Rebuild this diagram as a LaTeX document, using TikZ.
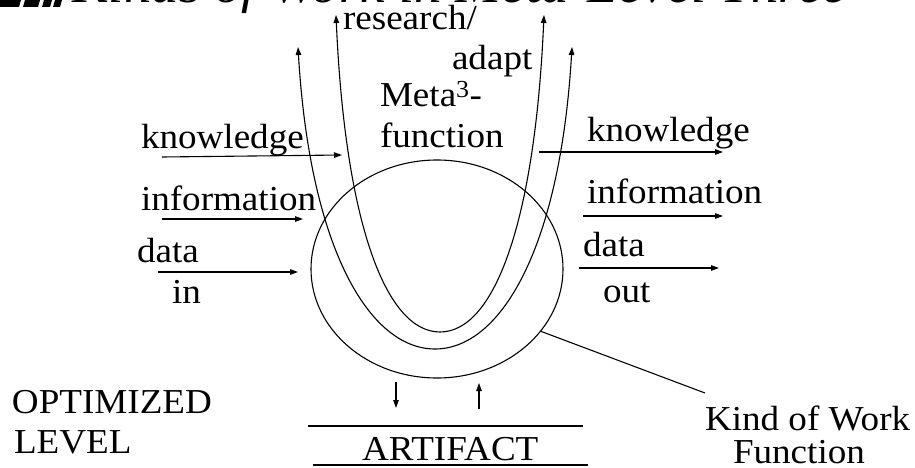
\documentclass[tikz,border=0pt]{standalone}
\usepackage{fontspec}
\setmainfont[FakeStretch=1.06]{Liberation Serif}
\usetikzlibrary{arrows.meta,shapes.geometric}

\begin{document}
\begin{tikzpicture}[x=1pt,y=-1pt,
  lbl/.style={inner sep=0pt, outer sep=0pt, anchor=base west, font=\fontsize{35}{40}\selectfont},
  stroke/.style={line width=1.1pt},
  flow/.style={stroke, -{Triangle[length=8pt,width=5.5pt]}},
  twoway/.style={stroke, {Triangle[length=8pt,width=5.5pt]}-{Triangle[length=8pt,width=5.5pt]}},
]
\useasboundingbox (0,0) rectangle (915,468);
\clip (0,0) rectangle (915,468);

% slide title and its bullet mark
\fill (0,0) -- (21,0) -- (19,7) -- (0,7) -- cycle;
\fill (25,0) -- (40,0) -- (38,7) -- (23,7) -- cycle;
\fill (44,0) -- (52,0) -- (50,7) -- (42,7) -- cycle;
\fill (55,0) -- (62,0) -- (60,7) -- (53,7) -- cycle;
\node[lbl, font=\fontsize{52}{60}\selectfont\itshape] (title) at (72,3) {Kinds of Work in Meta-Level Three};

% the work function
\node[draw, stroke, ellipse, inner sep=0pt, outer sep=0pt,
      minimum width=252pt, minimum height=218pt] (kwf) at (437,269) {};

% meta-function loops
\coordinate (innerL) at (336,15);
\coordinate (innerB) at (440,332);
\coordinate (innerR) at (544,15);
\draw[twoway] (innerL) .. controls (345,220) and (385,332) .. (innerB)
                       .. controls (495,332) and (535,220) .. (innerR);
\coordinate (outerL) at (298,47);
\coordinate (outerB) at (435,349);
\coordinate (outerR) at (572,47);
\draw[twoway] (outerL) .. controls (310,250) and (370,349) .. (outerB)
                       .. controls (500,349) and (560,250) .. (outerR);

\node[lbl] (research) at (343,30) {research/};
\node[lbl] (adapt) at (452,70) {adapt};
\node[lbl] (meta) at (380,107) {Meta\textsuperscript{3}-};
\node[lbl] (function) at (380,147) {function};

% inputs
\node[lbl] (kin) at (141,148) {knowledge};
\node[lbl] (iin) at (141,210) {information};
\node[lbl] (din) at (137,262) {data};
\node[lbl] (inw) at (172,303) {in};
\coordinate (kinA) at (162,157); \coordinate (kinB) at (342,155);
\coordinate (iinA) at (162,219); \coordinate (iinB) at (303,219);
\coordinate (dinA) at (158,272); \coordinate (dinB) at (298,272);
\draw[flow] (kinA) -- (kinB);
\draw[flow] (iinA) -- (iinB);
\draw[flow] (dinA) -- (dinB);

% outputs
\node[lbl] (kout) at (587,142) {knowledge};
\node[lbl] (iout) at (587,203) {information};
\node[lbl] (dout) at (583,256) {data};
\node[lbl] (outw) at (603,302) {out};
\coordinate (koutA) at (539,152); \coordinate (koutB) at (723,152);
\coordinate (ioutA) at (583,216); \coordinate (ioutB) at (723,216);
\coordinate (doutA) at (579,268); \coordinate (doutB) at (719,268);
\draw[flow] (koutA) -- (koutB);
\draw[flow] (ioutA) -- (ioutB);
\draw[flow] (doutA) -- (doutB);

% artifact
\coordinate (downA) at (396,382); \coordinate (downB) at (396,408);
\coordinate (upA) at (479,409);   \coordinate (upB) at (479,383);
\draw[flow] (downA) -- (downB);
\draw[flow] (upA) -- (upB);
\coordinate (barTA) at (308,426); \coordinate (barTB) at (583,426);
\coordinate (barBA) at (313,465); \coordinate (barBB) at (588,465);
\draw[stroke] (barTA) -- (barTB);
\draw[stroke] (barBA) -- (barBB);
\node[lbl] (artifact) at (362,460) {ARTIFACT};

% level
\node[lbl] (opt) at (12,413) {OPTIMIZED};
\node[lbl] (lvl) at (14,453) {LEVEL};

% callout
\node[lbl] (kind) at (705,430) {Kind of Work};
\node[lbl] (func) at (733,463) {Function};
\coordinate (callEnd) at (705,393);
\draw[stroke] (kwf.-31) -- (callEnd);
\end{tikzpicture}
\end{document}
